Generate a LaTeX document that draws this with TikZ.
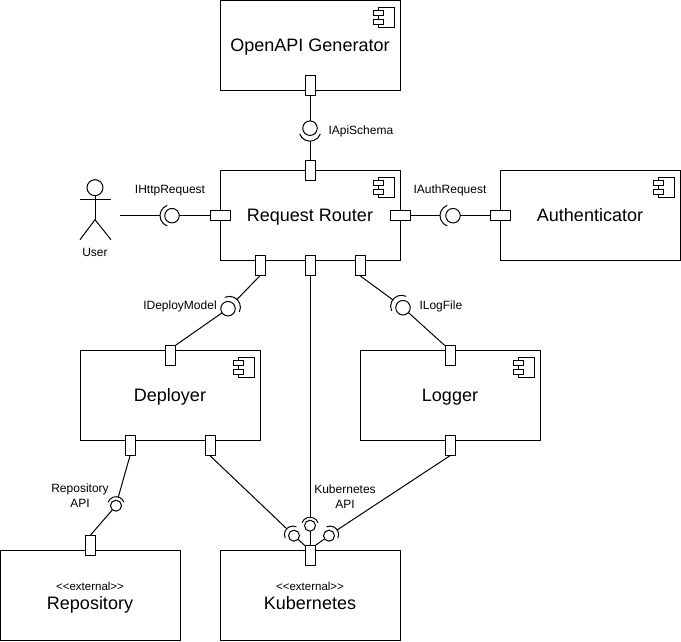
\documentclass[tikz,border=0pt]{standalone}
\usepackage{fontspec}
\setmainfont{Liberation Sans}
\tikzset{
	box/.style={draw,rectangle,minimum width=180,minimum height=90,inner sep=0pt,outer sep=0pt,font=\fontsize{18}{19}\selectfont,align=center},
	onebox/.style={box,text height=15,text depth=3.8},
	vport/.style={draw,fill=white,rectangle,minimum width=10,minimum height=20,inner sep=0pt,outer sep=0pt},
	hport/.style={draw,fill=white,rectangle,minimum width=20,minimum height=10,inner sep=0pt,outer sep=0pt},
	iface/.style={draw,circle,minimum size=14.5,inner sep=0pt,outer sep=0pt},
	smalliface/.style={draw,circle,minimum size=11,inner sep=0pt,outer sep=0pt},
	socket/.style={circle,minimum size=22,inner sep=0pt,outer sep=0pt},
	smallsocket/.style={circle,minimum size=17,inner sep=0pt,outer sep=0pt},
	lbl/.style={font=\fontsize{12}{15}\selectfont,align=center,inner sep=0pt}
}
\newcommand{\stereo}{{\fontsize{11.5}{14}\selectfont\rule{0pt}{12pt}<\kern0pt<external>\kern0pt>}}
\begin{document}
\begin{tikzpicture}[x=1pt,y=1pt,line width=1pt]
	\useasboundingbox (0,0.7) rectangle (681,642.7);
	\path
	(310,597)	node[onebox] (generator) 	{OpenAPI Generator}
	(310,427)	node[onebox] (router) 		{Request Router}
	(590,427)	node[onebox] (auth) 		{Authenticator}
	(170,247)	node[onebox] (deployer) 	{Deployer}
	(450,247)	node[onebox] (logger) 		{Logger}
	(90,47)		node[box] (repo) 		{\stereo\\Repository}
	(310,47)	node[box] (kube) 		{\stereo\\Kubernetes\vphantom{y}};
	\foreach \b in {generator,router,auth,deployer,logger}{
		\draw ([shift={(-22,-7)}]\b.north east) rectangle ([shift={(-6,-27)}]\b.north east);
		\draw[fill=white] ([shift={(-27,-10)}]\b.north east) rectangle ([shift={(-17,-15)}]\b.north east);
		\draw[fill=white] ([shift={(-27,-19)}]\b.north east) rectangle ([shift={(-17,-24)}]\b.north east);
	}
	\path
	(310,557)	node[vport] (pGen) 		{}
	(310,472)	node[vport] (pTop) 		{}
	(220,427)	node[hport] (pLeft) 	{}
	(400,427)	node[hport] (pRight) 	{}
	(500,427)	node[hport] (pAuth) 	{}
	(260,377)	node[vport] (pDeploy) 	{}
	(310,377)	node[vport] (pKube) 	{}
	(360,377)	node[vport] (pLog) 		{}
	(170,287)	node[vport] (pDepIn) 	{}
	(450,287)	node[vport] (pLogIn) 	{}
	(130,197)	node[vport] (pDepRepo) 	{}
	(210,197)	node[vport] (pDepKube) 	{}
	(450,197)	node[vport] (pLogKube) 	{}
	(90,97)		node[vport] (pRepo) 	{}
	(310,87)	node[vport] (pKubeIn) 	{};
	\path
	(310,514.5)	node[iface] (iSchema) 	{}
	(310,512.5)	node[socket] (sSchema) 	{}
	(172,427)	node[iface] (iHttp) 	{}
	(171,427)	node[socket] (sHttp) 	{}
	(453,427)	node[iface] (iAuth) 	{}
	(451,427)	node[socket] (sAuth) 	{}
	(228,334)	node[iface] (iDeploy) 	{}
	(229.4,335.4)	node[socket] (sDeploy) 	{}
	(403,335)	node[iface] (iLog) 		{}
	(401.6,336.4)	node[socket] (sLog) 	{}
	(116,137)	node[smalliface] (iRepo) 	{}
	(116,137.5)	node[smallsocket] (sRepo) 	{}
	(310,117)	node[smalliface] (iKube) 	{}
	(310,117)	node[smallsocket] (sKube) 	{}
	(294,107)	node[smalliface] (iKubeL) 	{}
	(292.9,108.1)	node[smallsocket] (sKubeL) 	{}
	(329,107)	node[smalliface] (iKubeR) 	{}
	(330.1,108.1)	node[smallsocket] (sKubeR) 	{};
	\foreach \s/\a/\r in {sSchema/-90/11,sHttp/180/11,sAuth/180/11,sDeploy/45/11,sLog/135/11,sRepo/90/8.5,sKube/90/8.5,sKubeL/135/8.5,sKubeR/45/8.5}{
		\draw ([shift={(\a-70:\r)}]\s.center) arc[start angle=\a-70,delta angle=140,radius=\r];
	}
	\path
	(95,455)	node[draw,circle,minimum size=16,inner sep=0pt,outer sep=0pt] (head) {}
	(95,423)	coordinate (hip)
	(80,443)	coordinate (armL)
	(111,443)	coordinate (armR)
	(80,403)	coordinate (footL)
	(111,403)	coordinate (footR)
	(120,427)	coordinate (hand)
	(95,390)	node[lbl] (user) {User};
	\draw (head)--(hip);
	\draw (armL)--(armR);
	\draw (footL)--(hip)--(footR);
	\path
	(328,511)	node[lbl,anchor=west] (lSchema) {IApiSchema}
	(170,452)	node[lbl] (lHttp) {IHttpRequest}
	(450,452)	node[lbl] (lAuth) {IAuthRequest}
	(180,336)	node[lbl] (lDeploy) {IDeployModel}
	(419,336)	node[lbl,anchor=west] (lLog) {ILogFile}
	(80,147)	node[lbl] (lRepo) {Repository\\API}
	(345,146.5)	node[lbl] (lKube) {Kubernetes\\API};
	\draw (pGen)--(iSchema);
	\draw (sSchema)--(pTop);
	\draw (hand)--(sHttp);
	\draw (iHttp)--(pLeft);
	\draw (pRight)--(sAuth);
	\draw (iAuth)--(pAuth);
	\draw (pDeploy.south)--(sDeploy);
	\draw (iDeploy)--(pDepIn.north east);
	\draw (pLog.south)--(sLog);
	\draw (iLog)--(pLogIn.north west);
	\draw (pKube)--(sKube);
	\draw (iKube)--(pKubeIn);
	\draw (pDepRepo.south)--(sRepo);
	\draw (iRepo)--(pRepo.north);
	\draw (pDepKube.south)--(sKubeL);
	\draw (iKubeL)--(pKubeIn.north west);
	\draw (pLogKube.south)--(sKubeR);
	\draw (iKubeR)--(pKubeIn.north east);
	\end{tikzpicture}
\end{document}
